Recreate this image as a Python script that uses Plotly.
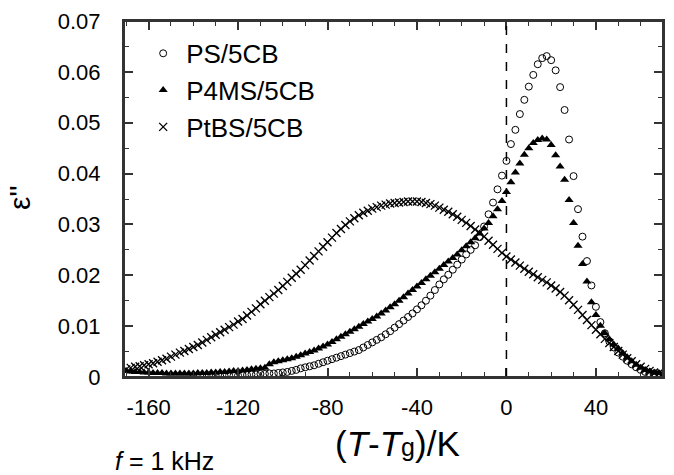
import plotly.graph_objects as go

# ---------------- data ----------------
ps_x = [-140, -138, -136, -134, -132, -130, -128, -126, -124, -122, -120, -118, -116, -114, -112,
        -110, -108, -106, -104, -102, -100, -98, -96, -94, -92, -90, -88, -86, -84, -82, -80,
        -78, -76, -74, -72, -70, -68, -66, -64, -62, -60, -58, -56, -54, -52, -50, -48, -46,
        -44, -42, -40, -38, -36, -34, -32, -30, -28, -26, -24, -22, -20, -18, -16, -14, -12,
        -10, -8, -6, -4, -2, 0, 2, 4, 6, 8, 10, 12, 14, 16, 18, 20, 22, 24, 26, 28, 30, 32,
        34, 36, 38, 40, 42, 44, 46, 48, 50, 52, 54, 56, 58, 60, 62, 64, 66]
ps_y = [0.0000, 0.0000, 0.0001, 0.0001, 0.0001, 0.0002, 0.0002, 0.0002, 0.0003, 0.0003, 0.0003,
        0.0004, 0.0004, 0.0005, 0.0005, 0.0006, 0.0006, 0.0007, 0.0007, 0.0008, 0.0009, 0.0010,
        0.0012, 0.0014, 0.0017, 0.0019, 0.0021, 0.0023, 0.0026, 0.0029, 0.0032, 0.0035, 0.0038,
        0.0041, 0.0044, 0.0047, 0.0050, 0.0053, 0.0058, 0.0063, 0.0068, 0.0073, 0.0078, 0.0084,
        0.0090, 0.0097, 0.0104, 0.0111, 0.0118, 0.0125, 0.0133, 0.0141, 0.0150, 0.0160, 0.0171,
        0.0182, 0.0192, 0.0201, 0.0211, 0.0221, 0.0231, 0.0241, 0.0250, 0.0259, 0.0275, 0.0296,
        0.0320, 0.0343, 0.0369, 0.0396, 0.0425, 0.0458, 0.0486, 0.0517, 0.0545, 0.0571, 0.0594,
        0.0615, 0.0627, 0.0631, 0.0623, 0.0603, 0.0570, 0.0525, 0.0467, 0.0395, 0.0330, 0.0276,
        0.0228, 0.0180, 0.0138, 0.0108, 0.0086, 0.0070, 0.0058, 0.0048, 0.0040, 0.0032, 0.0025,
        0.0019, 0.0014, 0.0010, 0.0007, 0.0005]

p4ms_x = [-170, -168, -166, -164, -162, -160, -158, -156, -154, -152, -150, -148, -146, -144,
          -142, -140, -138, -136, -134, -132, -130, -128, -126, -124, -122, -120, -118, -116,
          -114, -112, -110, -108, -106, -104, -102, -100, -98, -96, -94, -92, -90, -88, -86,
          -84, -82, -80, -78, -76, -74, -72, -70, -68, -66, -64, -62, -60, -58, -56, -54, -52,
          -50, -48, -46, -44, -42, -40, -38, -36, -34, -32, -30, -28, -26, -24, -22, -20, -18,
          -16, -14, -12, -10, -8, -6, -4, -2, 0, 2, 4, 6, 8, 10, 12, 14, 16, 18, 20, 22, 24, 26,
          28, 30, 32, 34, 36, 38, 40, 42, 44, 46, 48, 50, 52, 54, 56, 58, 60, 62, 64, 66, 68]
p4ms_y = [0.0012, 0.0011, 0.0010, 0.0010, 0.0009, 0.0009, 0.0008, 0.0008, 0.0008, 0.0007, 0.0007,
          0.0007, 0.0007, 0.0007, 0.0007, 0.0007, 0.0008, 0.0008, 0.0008, 0.0009, 0.0009, 0.0010,
          0.0010, 0.0011, 0.0012, 0.0012, 0.0013, 0.0014, 0.0015, 0.0016, 0.0017, 0.0018, 0.0025,
          0.0029, 0.0031, 0.0033, 0.0035, 0.0037, 0.0040, 0.0043, 0.0046, 0.0049, 0.0052, 0.0056,
          0.0060, 0.0064, 0.0069, 0.0074, 0.0079, 0.0084, 0.0089, 0.0094, 0.0099, 0.0104, 0.0109,
          0.0114, 0.0119, 0.0125, 0.0131, 0.0137, 0.0143, 0.0150, 0.0157, 0.0164, 0.0171, 0.0178,
          0.0185, 0.0192, 0.0199, 0.0206, 0.0213, 0.0220, 0.0227, 0.0234, 0.0241, 0.0249, 0.0257,
          0.0265, 0.0273, 0.0282, 0.0292, 0.0303, 0.0316, 0.0330, 0.0346, 0.0364, 0.0383, 0.0402,
          0.0420, 0.0437, 0.0450, 0.0460, 0.0466, 0.0469, 0.0467, 0.0456, 0.0436, 0.0414, 0.0388,
          0.0348, 0.0303, 0.0258, 0.0222, 0.0188, 0.0147, 0.0122, 0.0101, 0.0086, 0.0074, 0.0064,
          0.0056, 0.0047, 0.0039, 0.0031, 0.0024, 0.0018, 0.0014, 0.0011, 0.0009, 0.0008]

ptbs_x = [-170, -168, -166, -164, -162, -160, -158, -156, -154, -152, -150, -148, -146, -144,
          -142, -140, -138, -136, -134, -132, -130, -128, -126, -124, -122, -120, -118, -116,
          -114, -112, -110, -108, -106, -104, -102, -100, -98, -96, -94, -92, -90, -88, -86,
          -84, -82, -80, -78, -76, -74, -72, -70, -68, -66, -64, -62, -60, -58, -56, -54, -52,
          -50, -48, -46, -44, -42, -40, -38, -36, -34, -32, -30, -28, -26, -24, -22, -20, -18,
          -16, -14, -12, -10, -8, -6, -4, -2, 0, 2, 4, 6, 8, 10, 12, 14, 16, 18, 20, 22, 24, 26,
          28, 30, 32, 34, 36, 38, 40, 42, 44, 46, 48, 50, 52, 54, 56, 58, 60, 62, 64, 66, 68, 70]
ptbs_y = [0.0015, 0.0018, 0.0020, 0.0021, 0.0023, 0.0025, 0.0027, 0.0030, 0.0033, 0.0036, 0.0040,
          0.0044, 0.0048, 0.0051, 0.0055, 0.0059, 0.0063, 0.0068, 0.0073, 0.0078, 0.0083, 0.0088,
          0.0093, 0.0098, 0.0103, 0.0109, 0.0114, 0.0121, 0.0128, 0.0135, 0.0143, 0.0150, 0.0157,
          0.0164, 0.0171, 0.0179, 0.0187, 0.0195, 0.0203, 0.0211, 0.0220, 0.0229, 0.0238, 0.0247,
          0.0256, 0.0265, 0.0274, 0.0283, 0.0291, 0.0299, 0.0306, 0.0312, 0.0318, 0.0323, 0.0327,
          0.0331, 0.0334, 0.0337, 0.0339, 0.0341, 0.0342, 0.0343, 0.0344, 0.0345, 0.0345, 0.0345,
          0.0344, 0.0342, 0.0340, 0.0337, 0.0333, 0.0329, 0.0325, 0.0320, 0.0315, 0.0309, 0.0303,
          0.0297, 0.0290, 0.0283, 0.0276, 0.0268, 0.0260, 0.0252, 0.0244, 0.0237, 0.0231, 0.0225,
          0.0219, 0.0213, 0.0207, 0.0202, 0.0196, 0.0191, 0.0186, 0.0180, 0.0174, 0.0167, 0.0160,
          0.0151, 0.0142, 0.0132, 0.0122, 0.0112, 0.0102, 0.0093, 0.0084, 0.0075, 0.0067, 0.0059,
          0.0051, 0.0044, 0.0037, 0.0031, 0.0025, 0.0020, 0.0016, 0.0012, 0.0009, 0.0007, 0.0006]

series_names = ["PS/5CB", "P4MS/5CB", "PtBS/5CB"]
x_tickvals = [-160, -120, -80, -40, 0, 40]
x_ticktext = ["-160", "-120", "-80", "-40", "0", "40"]
y_tickvals = [0, 0.01, 0.02, 0.03, 0.04, 0.05, 0.06, 0.07]
y_ticktext = ["0", "0.01", "0.02", "0.03", "0.04", "0.05", "0.06", "0.07"]
tg_line_x = 0

FONT = "Liberation Sans, Arial, sans-serif"
INK = "black"
AX = "#333333"

fig = go.Figure()
fig.add_trace(go.Scatter(
    x=ps_x, y=ps_y, mode="markers", name=series_names[0],
    marker=dict(symbol="circle-open", size=7, color=INK, line=dict(width=1, color=INK)),
))
fig.add_trace(go.Scatter(
    x=p4ms_x, y=p4ms_y, mode="markers", name=series_names[1],
    marker=dict(symbol="triangle-up", size=8, color=INK, line=dict(width=0)),
))
fig.add_trace(go.Scatter(
    x=ptbs_x, y=ptbs_y, mode="markers", name=series_names[2],
    marker=dict(symbol="x-thin", size=8, color=INK, line=dict(width=1.3, color=INK)),
))

fig.add_shape(type="line", xref="x", yref="paper", x0=tg_line_x, x1=tg_line_x, y0=0, y1=1,
              line=dict(color=INK, width=1.5, dash="dash"))
fig.add_shape(type="rect", xref="paper", yref="paper", x0=0, x1=1, y0=0, y1=1,
              line=dict(color=AX, width=2), fillcolor="rgba(0,0,0,0)", layer="above")

axis_common = dict(
    showline=True, linecolor=AX, linewidth=2, mirror="allticks",
    ticks="inside", ticklen=9, tickwidth=1.5, tickcolor=AX,
    showgrid=False, zeroline=False,
    tickfont=dict(family=FONT, size=22, color=INK),
)

fig.update_layout(
    width=674, height=475,
    margin=dict(l=124, r=9, t=16, b=98),
    paper_bgcolor="white", plot_bgcolor="white",
    font=dict(family=FONT, color=INK),
    xaxis=dict(range=[-171, 70], tickmode="array", tickvals=x_tickvals, ticktext=x_ticktext,
               minor=dict(dtick=10, ticklen=5, ticks="inside", tickcolor=AX, tickwidth=1.2),
               ticklabelstandoff=10, **axis_common),
    yaxis=dict(range=[0, 0.07], tickmode="array", tickvals=y_tickvals, ticktext=y_ticktext,
               minor=dict(dtick=0.005, ticklen=5, ticks="inside", tickcolor=AX, tickwidth=1.2),
               ticklabelstandoff=17, **axis_common),
    legend=dict(x=0.03, y=0.975, xanchor="left", yanchor="top", bgcolor="rgba(0,0,0,0)",
                font=dict(family=FONT, size=26, color=INK), itemsizing="trace",
                itemwidth=36, tracegroupgap=0),
    showlegend=True,
)

fig.add_annotation(xref="paper", yref="paper", x=0.508, y=-0.186, xanchor="center", yanchor="middle",
                   text="(<i>T</i>-<i>T</i><span style='font-size:25px'>g</span>)/K",
                   showarrow=False, font=dict(family=FONT, size=35, color=INK))
fig.add_annotation(xref="paper", yref="paper", x=0.076, y=-0.236, xanchor="center", yanchor="middle",
                   text="<i>f</i> = 1 kHz", showarrow=False,
                   font=dict(family=FONT, size=25, color=INK))
fig.add_annotation(xref="paper", yref="paper", x=-0.194, y=0.504, xanchor="center", yanchor="middle",
                   text="ε''", textangle=-90, showarrow=False,
                   font=dict(family=FONT, size=30, color=INK))

fig.write_html("out.html")
